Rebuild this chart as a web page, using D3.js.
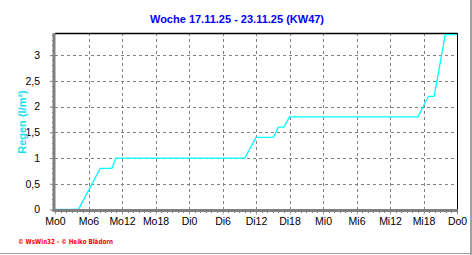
<!DOCTYPE html>
<html>
<head>
<meta charset="utf-8">
<script src="https://cdn.jsdelivr.net/npm/d3@7"></script>
<style>
  body { margin: 0; background: #fff; }
  svg { display: block; font-family: "Liberation Sans", Arial, sans-serif; }
</style>
</head>
<body>
<script>
// hours since Monday 0:00 and the cumulated rain (l/m²)
const hours = [0, 4.2, 8.1, 10.2, 10.9, 34.0, 36.0, 39.1, 40.0, 41.0, 42.0, 65.0, 66.9, 67.9, 69.9, 72];
const rain = [0, 0, 0.8, 0.8, 1.0, 1.0, 1.4, 1.4, 1.6, 1.6, 1.8, 1.8, 2.2, 2.2, 3.4, 3.4];
const xTickHours = [0, 6, 12, 18, 24, 30, 36, 42, 48, 54, 60, 66, 72];
const xTickLabels = ['Mo0', 'Mo6', 'Mo12', 'Mo18', 'Di0', 'Di6', 'Di12', 'Di18', 'Mi0', 'Mi6', 'Mi12', 'Mi18', 'Do0'];
const yTicks = [0, 0.5, 1, 1.5, 2, 2.5, 3];
const title = 'Woche 17.11.25 - 23.11.25 (KW47)';
const yTitle = 'Regen (l/m²)';
const footer = '© WsWin32 - © Heiko Blädorn';

const w = 472, h = 255;
const pLeft = 55, pRight = 457, pTop = 33, pBottom = 209.5;

const svg = d3.select('body').append('svg')
  .attr('width', w)
  .attr('height', h);

const x = d3.scaleLinear().domain([0, 72]).range([pLeft, pRight]);
const y = d3.scaleLinear().domain([0, 3.43]).range([pBottom, pTop]);
const de = d3.formatLocale({ decimal: ',', thousands: '.', grouping: [3], currency: ['', '€'] });
const fmt = de.format('~g');

// outer frame (gray at right and bottom)
svg.append('line').attr('x1', w - 1).attr('x2', w - 1).attr('y1', 0).attr('y2', h)
  .attr('stroke', '#a0a0a0').attr('stroke-width', 2);
svg.append('line').attr('x1', 0).attr('x2', w).attr('y1', h - 1.5).attr('y2', h - 1.5)
  .attr('stroke', '#a0a0a0').attr('stroke-width', 1);

// grid
svg.append('g')
  .attr('transform', `translate(0, ${pBottom})`)
  .call(d3.axisBottom(x).tickValues(xTickHours.slice(1, -1)).tickSize(-(pBottom - pTop)).tickFormat(''))
  .call(g => g.select('.domain').remove())
  .call(g => g.selectAll('line').attr('stroke', '#808080').attr('stroke-dasharray', '3,3').attr('shape-rendering', 'crispEdges'));
svg.append('g')
  .attr('transform', `translate(${pLeft}, 0)`)
  .call(d3.axisLeft(y).tickValues(yTicks.slice(1)).tickSize(-(pRight - pLeft)).tickFormat(''))
  .call(g => g.select('.domain').remove())
  .call(g => g.selectAll('line').attr('stroke', '#808080').attr('stroke-dasharray', '3,3').attr('shape-rendering', 'crispEdges'));

// black frame top/right
svg.append('line').attr('x1', pLeft).attr('x2', pRight + 0.5).attr('y1', pTop + 0.5).attr('y2', pTop + 0.5)
  .attr('stroke', '#000').attr('stroke-width', 1.5);
svg.append('line').attr('x1', pRight + 0.5).attr('x2', pRight + 0.5).attr('y1', pTop).attr('y2', pBottom)
  .attr('stroke', '#000').attr('stroke-width', 1);

// data line
const line = d3.line().x((d, i) => x(hours[i])).y(d => y(d));
svg.append('path')
  .datum(rain)
  .attr('d', line)
  .attr('fill', 'none')
  .attr('stroke', '#00ffff')
  .attr('stroke-width', 1.3);

// minor ticks
svg.append('g')
  .attr('transform', `translate(0, ${pBottom})`)
  .call(d3.axisBottom(x).tickValues(d3.range(0, 73, 1)).tickSize(3).tickFormat(''))
  .call(g => g.select('.domain').remove())
  .call(g => g.selectAll('line').attr('stroke', '#808080').attr('shape-rendering', 'crispEdges'));
svg.append('g')
  .attr('transform', `translate(${pLeft}, 0)`)
  .call(d3.axisLeft(y).tickValues(d3.range(0, 35).map(i => i / 10)).tickSize(3).tickFormat(''))
  .call(g => g.select('.domain').remove())
  .call(g => g.selectAll('line').attr('stroke', '#808080').attr('shape-rendering', 'crispEdges'));

// main axes
const xAxis = svg.append('g')
  .attr('transform', `translate(0, ${pBottom})`)
  .call(d3.axisBottom(x).tickValues(xTickHours).tickSize(5).tickPadding(3)
    .tickFormat((d, i) => xTickLabels[i]));
xAxis.select('.domain').attr('stroke', '#808080').attr('stroke-width', 3)
  .attr('d', `M${pLeft - 2},1H${pRight + 1}`);
xAxis.selectAll('line').attr('stroke', '#808080').attr('stroke-dasharray', '2,2');
xAxis.selectAll('text').attr('font-size', '10.5px').attr('fill', '#000')
  .attr('font-family', '"Liberation Sans", Arial, sans-serif');

const yAxis = svg.append('g')
  .attr('transform', `translate(${pLeft}, 0)`)
  .call(d3.axisLeft(y).tickValues(yTicks).tickSize(5).tickPadding(10).tickFormat(fmt));
yAxis.select('.domain').attr('stroke', '#808080').attr('stroke-width', 3)
  .attr('d', `M-1,${pTop}V${pBottom + 2}`);
yAxis.selectAll('line').attr('stroke', '#808080');
yAxis.selectAll('text').attr('font-size', '10.5px').attr('fill', '#000')
  .attr('font-family', '"Liberation Sans", Arial, sans-serif');

// titles
svg.append('text')
  .attr('x', 237).attr('y', 23)
  .attr('text-anchor', 'middle')
  .attr('font-size', '11px').attr('font-weight', 'bold')
  .attr('fill', '#0000ff')
  .text(title);

svg.append('text')
  .attr('transform', 'translate(26, 122) rotate(-90)')
  .attr('text-anchor', 'middle')
  .attr('font-size', '11px').attr('font-weight', 'bold')
  .attr('fill', '#22ddee')
  .text(yTitle);

svg.append('text')
  .attr('x', 18).attr('y', 244)
  .attr('font-size', '7px').attr('font-weight', 'bold')
  .attr('fill', '#ff0000')
  .attr('textLength', 95).attr('lengthAdjust', 'spacingAndGlyphs')
  .attr('font-family', '"DejaVu Sans", sans-serif')
  .text(footer);
</script>
</body>
</html>
